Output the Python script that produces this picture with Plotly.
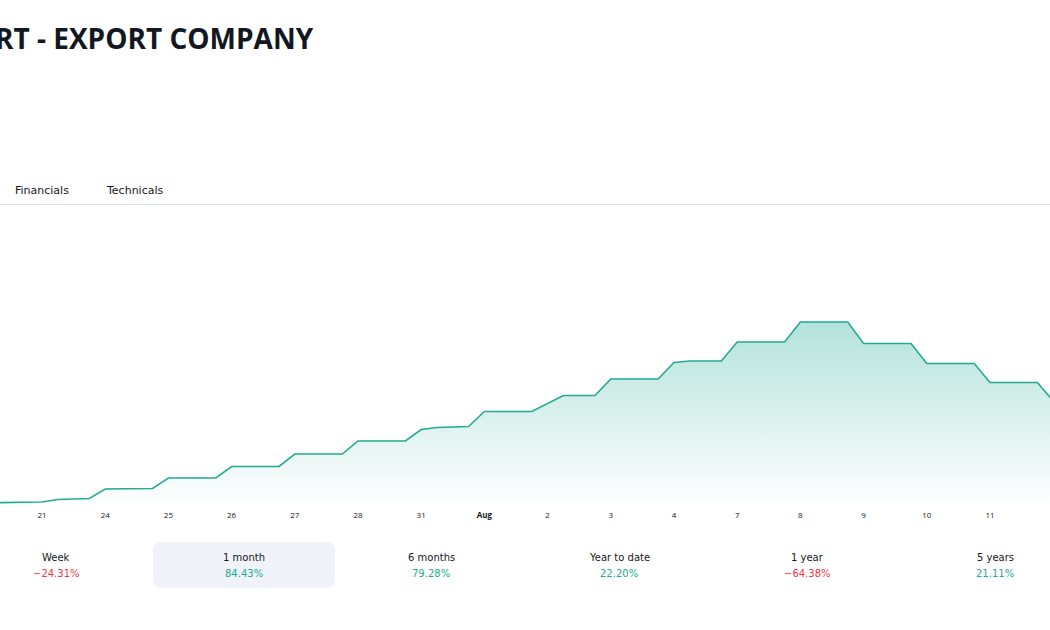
import plotly.graph_objects as go

# ---- data ----
tick_labels = ["21", "24", "25", "26", "27", "28", "31", "<b>Aug</b>", "2", "3", "4", "7", "8", "9", "10", "11"]
tick_index = list(range(len(tick_labels)))

# trading-day position (index of day, fractional = intraday) and price
t_pos = [-1, 0, 0.25, 0.75, 1, 1.75, 2, 2.75, 3, 3.75, 4, 4.75, 5, 5.75, 6, 6.25, 6.75,
         7, 7.75, 8.25, 8.75, 9, 9.75, 10, 10.25, 10.75, 11, 11.75, 12, 12.75,
         13, 13.75, 14, 14.75, 15, 15.75, 16]
price = [2.04, 2.06, 2.11, 2.13, 2.32, 2.33, 2.54, 2.54, 2.77, 2.77, 3.02, 3.02, 3.28, 3.28,
         3.51, 3.55, 3.57, 3.87, 3.87, 4.19, 4.19, 4.52, 4.52, 4.85, 4.88, 4.88, 5.26, 5.26,
         5.66, 5.66, 5.23, 5.23, 4.83, 4.83, 4.45, 4.45, 4.08]

perf_labels = ["Week", "1 month", "6 months", "Year to date", "1 year", "5 years"]
perf_values = [-24.31, 84.43, 79.28, 22.20, -64.38, 21.11]

title_text = "RT - EXPORT COMPANY"
tabs = ["Financials", "Technicals"]

GREEN = "#22ab94"
RED = "#f23645"
W, H = 1050, 630
plot_top, plot_bot = 210, 505

fig = go.Figure()
fig.add_trace(go.Scatter(
    x=t_pos, y=price, mode="lines",
    line=dict(color=GREEN, width=1.6),
    fill="tozeroy",
    fillgradient=dict(type="vertical",
                      colorscale=[[0, "rgba(34,171,148,0)"], [1, "rgba(34,171,148,0.34)"]],
                      start=2.0, stop=max(price)),
    hoverinfo="skip", showlegend=False,
))

fig.update_layout(
    width=W, height=H,
    margin=dict(l=0, r=0, t=plot_top, b=H - plot_bot, pad=0),
    paper_bgcolor="white", plot_bgcolor="white",
    xaxis=dict(range=[-0.665, 15.95], tickvals=tick_index, ticktext=tick_labels,
               showgrid=False, zeroline=False, showline=False, ticks="",
               ticklabelstandoff=4,
               tickfont=dict(family="Open Sans, sans-serif", size=8, color="#131722"),
               fixedrange=True),
    yaxis=dict(range=[2.0, 7.9], visible=False, showgrid=False, zeroline=False, fixedrange=True),
    font=dict(family="Open Sans, sans-serif", color="#131722"),
)

def px_x(p):
    return p / W

def px_y(p):
    return (plot_bot - p) / (plot_bot - plot_top)

ann = []
# title, cut off at the left
ann.append(dict(text="<b>" + title_text + "</b>", xref="paper", yref="paper",
                x=px_x(316), y=px_y(38), xanchor="right", yanchor="middle",
                showarrow=False, font=dict(family="Open Sans, sans-serif", size=28, color="#131722")))
# tabs
for t, xc in zip(tabs, [42, 135]):
    ann.append(dict(text=t, xref="paper", yref="paper", x=px_x(xc), y=px_y(190),
                    xanchor="center", yanchor="middle", showarrow=False,
                    font=dict(family="DejaVu Sans, sans-serif", size=11, color="#131722")))

shapes = [dict(type="line", xref="paper", yref="paper", x0=0, x1=1,
               y0=px_y(204.5), y1=px_y(204.5), line=dict(color="#e0e3eb", width=1))]

# performance row
centers = [56, 244, 431, 619, 807, 995]
for lab, val, xc in zip(perf_labels, perf_values, centers):
    col = GREEN if val >= 0 else RED
    s = ("%.2f%%" % val).replace("-", "\u2212")
    ann.append(dict(text=lab, xref="paper", yref="paper", x=px_x(xc), y=px_y(557),
                    xanchor="center", yanchor="middle", showarrow=False,
                    font=dict(family="DejaVu Sans, sans-serif", size=10, color="#131722")))
    ann.append(dict(text=s, xref="paper", yref="paper", x=px_x(xc), y=px_y(573),
                    xanchor="center", yanchor="middle", showarrow=False,
                    font=dict(family="DejaVu Sans, sans-serif", size=10, color=col)))

# highlighted "1 month" box (rounded)
x0, x1, y0, y1, r = 153, 335, 542, 588, 8
path = (f"M {x0+r},{y0} L {x1-r},{y0} Q {x1},{y0} {x1},{y0+r} L {x1},{y1-r} Q {x1},{y1} {x1-r},{y1} "
        f"L {x0+r},{y1} Q {x0},{y1} {x0},{y1-r} L {x0},{y0+r} Q {x0},{y0} {x0+r},{y0} Z")

def conv(tok_path):
    out = []
    for tok in tok_path.split(" "):
        if "," in tok:
            a, b = tok.split(",")
            out.append(f"{px_x(float(a)):.5f},{px_y(float(b)):.5f}")
        else:
            out.append(tok)
    return " ".join(out)

shapes.append(dict(type="path", xref="paper", yref="paper", path=conv(path),
                   fillcolor="#f0f3fa", line=dict(width=0), layer="below"))

fig.update_layout(annotations=ann, shapes=shapes)
fig.write_html("out.html")
